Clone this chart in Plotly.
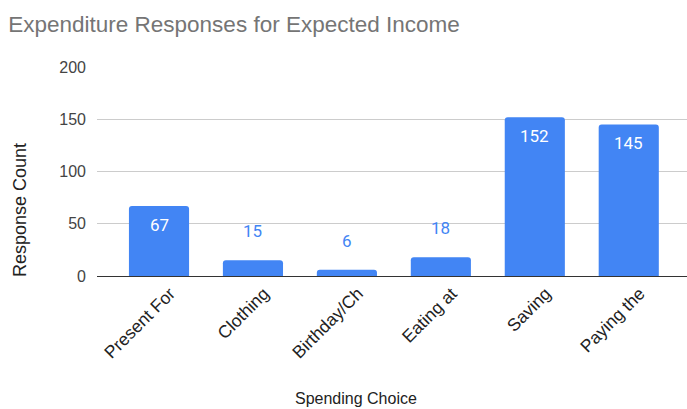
import plotly.graph_objects as go

# Survey results: how respondents would spend expected income
categories = ["Present For", "Clothing", "Birthday/Ch", "Eating at", "Saving", "Paying the"]
counts = [67, 15, 6, 18, 152, 145]
y_ticks = [0, 50, 100, 150, 200]

BAR_BLUE = "#4285F4"
INSIDE_MIN = 40  # values at least this big get their label inside the bar
PLOT_L, PLOT_R, PLOT_T, PLOT_B = 97, 687, 67, 276
W, H = 687, 409


def px_to_paper(x, y):
    """Convert a pixel position in the figure to paper coordinates."""
    return (x - PLOT_L) / (PLOT_R - PLOT_L), (PLOT_B - y) / (PLOT_B - PLOT_T)


fig = go.Figure(
    go.Bar(
        x=categories,
        y=counts,
        marker=dict(color=BAR_BLUE, line=dict(width=0)),
        width=0.64,
        hoverinfo="x+y",
    )
)

# Value labels: white inside tall bars, blue above short ones
for cat, val in zip(categories, counts):
    inside = val >= INSIDE_MIN
    fig.add_annotation(
        x=cat,
        y=val,
        text=str(val),
        showarrow=False,
        xref="x",
        yref="y",
        yanchor="middle",
        yshift=-19 if inside else 29,
        font=dict(family="Roboto", size=17, color="#ffffff" if inside else BAR_BLUE),
    )

# Axis titles
ax, ay = px_to_paper(356, 398)
fig.add_annotation(
    x=ax, y=ay, xref="paper", yref="paper",
    text="Spending Choice", showarrow=False,
    xanchor="center", yanchor="middle",
    font=dict(family="Liberation Sans, Arial", size=16, color="#222222"),
)
ax, ay = px_to_paper(20, 210)
fig.add_annotation(
    x=ax, y=ay, xref="paper", yref="paper",
    text="Response Count", showarrow=False, textangle=-90,
    xanchor="center", yanchor="middle",
    font=dict(family="Liberation Sans, Arial", size=18, color="#222222"),
)

fig.update_layout(
    width=W,
    height=H,
    margin=dict(l=PLOT_L, r=W - PLOT_R, t=PLOT_T, b=H - PLOT_B),
    paper_bgcolor="white",
    plot_bgcolor="white",
    showlegend=False,
    barcornerradius=3,
    title=dict(
        text="Expenditure Responses for Expected Income",
        x=0.012,
        xanchor="left",
        y=1 - 24 / H,
        yanchor="middle",
        font=dict(family="Liberation Sans, Arial", size=22.5, color="#757575"),
    ),
    font=dict(family="Liberation Sans, Arial", color="#444444"),
)

fig.update_xaxes(
    range=[-0.66, 5.62],
    tickangle=-45,
    tickfont=dict(size=17.5, color="#222222"),
    showgrid=False,
    showline=False,
    ticks="",
    ticklabelshift=11,
    ticklabelstandoff=3,
    fixedrange=True,
)

fig.update_yaxes(
    range=[0, 200],
    tickvals=y_ticks,
    tickfont=dict(size=16, color="#444444"),
    showgrid=True,
    gridcolor="#cccccc",
    gridwidth=1,
    zeroline=True,
    zerolinecolor="#333333",
    zerolinewidth=1,
    ticks="",
    ticklabelstandoff=10,
    fixedrange=True,
)

fig.write_html("out.html")
